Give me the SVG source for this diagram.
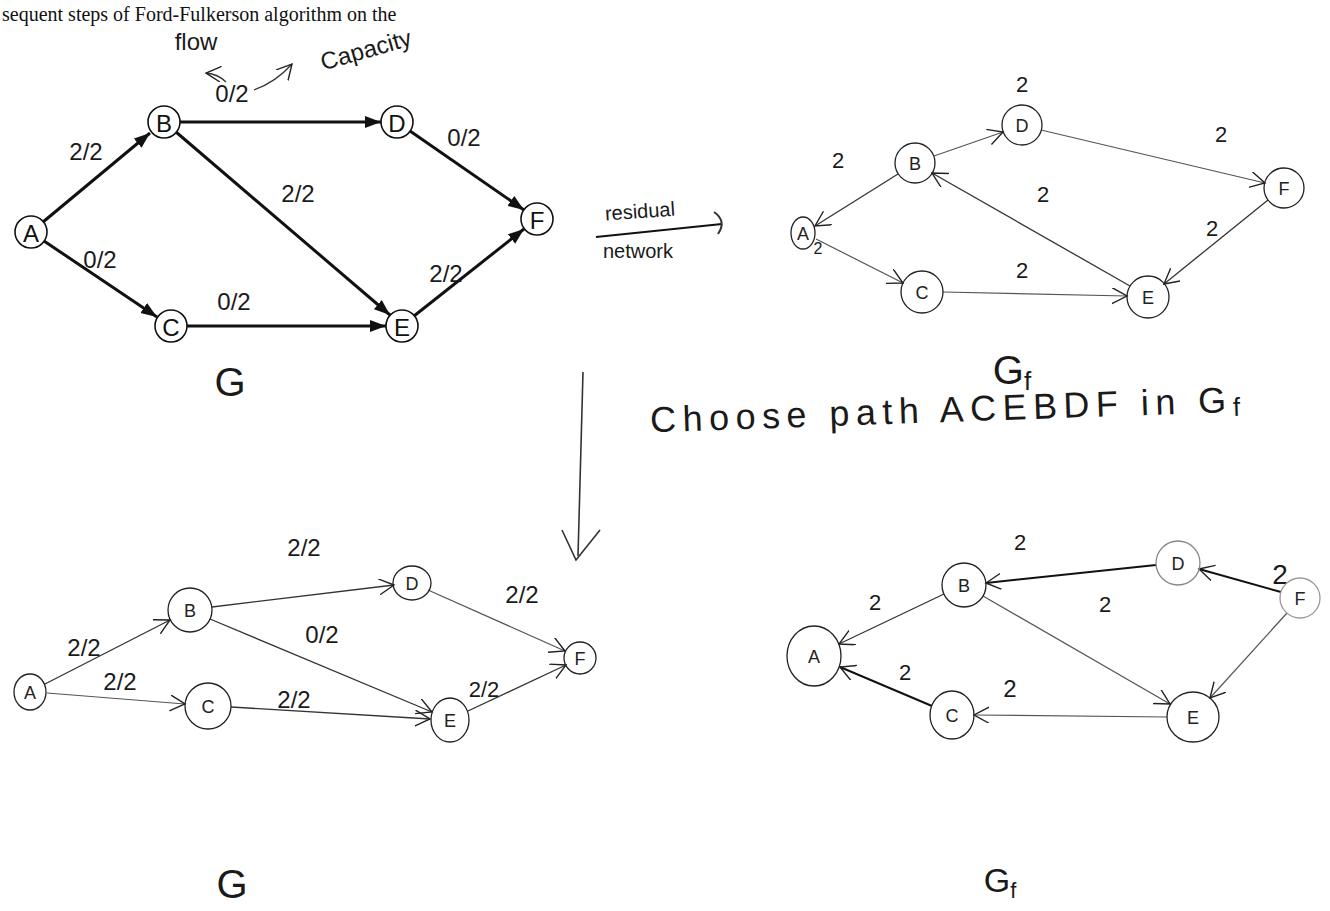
<svg xmlns="http://www.w3.org/2000/svg" width="1330" height="911" viewBox="0 0 1330 911">
<defs>
<style>
.bg{fill:#fff}
.pn{fill:#fff;stroke:#111;stroke-width:1.6}
.pl{font-family:"Liberation Sans",Arial,sans-serif;font-size:24px;fill:#111;text-anchor:middle;dominant-baseline:central}
.hn{fill:none;stroke:#222;stroke-width:1.3}
.hl{font-family:"Liberation Sans",Arial,sans-serif;font-size:18px;fill:#222;text-anchor:middle;dominant-baseline:central}
.hw{font-family:"Liberation Sans",Arial,sans-serif;fill:#1a1a1a;text-anchor:middle}
.thick{stroke:#111;stroke-width:3;fill:none}
.thin{stroke:#333;stroke-width:1.3;fill:none}
.light{stroke:#555;stroke-width:1.2;fill:none}
.print{font-family:"Liberation Serif","Times New Roman",serif;font-size:20px;fill:#111}
</style>
<marker id="tri" markerUnits="userSpaceOnUse" markerWidth="18" markerHeight="14" refX="16" refY="6" orient="auto"><path d="M0,0 L16,6 L0,12 z" fill="#111"/></marker>
<marker id="vee" markerUnits="userSpaceOnUse" markerWidth="18" markerHeight="18" refX="15" refY="8" orient="auto"><path d="M0,0 L15,8 L0,16" fill="none" stroke="#222" stroke-width="1.4"/></marker>
</defs>
<rect class="bg" width="1330" height="911"/>
<text class="print" x="2" y="21">sequent steps of Ford-Fulkerson algorithm on the</text>

<g id="connectors">
<!-- G (top) -->
<line class="thick" x1="43" y1="222" x2="150" y2="133" marker-end="url(#tri)"/>
<line class="thick" x1="44" y1="241" x2="157" y2="317" marker-end="url(#tri)"/>
<line class="thick" x1="180" y1="122" x2="381" y2="122" marker-end="url(#tri)"/>
<line class="thick" x1="176" y1="132" x2="390" y2="315" marker-end="url(#tri)"/>
<line class="thick" x1="410" y1="131" x2="524" y2="210" marker-end="url(#tri)"/>
<line class="thick" x1="187" y1="326" x2="386" y2="326" marker-end="url(#tri)"/>
<line class="thick" x1="414" y1="316" x2="524" y2="229" marker-end="url(#tri)"/>
<!-- annotation arrows -->
<path class="thin" d="M226,82 Q218,74 206,73" marker-end="url(#vee)"/>
<path class="thin" d="M254,90 Q276,82 292,64" marker-end="url(#vee)"/>
<!-- residual network arrow -->
<path class="thick" style="stroke-width:2" d="M596,237 Q665,230 722,224"/>
<path class="thin" style="stroke-width:2" d="M714,212 Q727,221 718,234"/>
<!-- Gf top -->
<line class="light" x1="934" y1="156" x2="1003" y2="132" marker-end="url(#vee)"/>
<line class="light" x1="1041" y1="130" x2="1265" y2="183" marker-end="url(#vee)"/>
<line class="thin" x1="898" y1="174" x2="815" y2="226" marker-end="url(#vee)"/>
<line class="light" x1="816" y1="239" x2="903" y2="283" marker-end="url(#vee)"/>
<line class="light" x1="943" y1="292" x2="1127" y2="296" marker-end="url(#vee)"/>
<line class="thin" x1="1130" y1="286" x2="932" y2="173" marker-end="url(#vee)"/>
<line class="thin" x1="1268" y1="200" x2="1164" y2="284" marker-end="url(#vee)"/>
<!-- vertical down arrow -->
<line class="thin" style="stroke-width:1.6" x1="583" y1="372" x2="578" y2="556"/>
<path class="thin" style="stroke-width:1.6" d="M562,530 L576,560 L600,530"/>
<!-- G (bottom) -->
<line class="thin" x1="45" y1="684" x2="170" y2="620" marker-end="url(#vee)"/>
<line class="light" x1="47" y1="693" x2="185" y2="704" marker-end="url(#vee)"/>
<line class="thin" x1="212" y1="607" x2="394" y2="585" marker-end="url(#vee)"/>
<line class="thin" x1="210" y1="619" x2="432" y2="712" marker-end="url(#vee)"/>
<line class="light" x1="428" y1="590" x2="565" y2="651" marker-end="url(#vee)"/>
<line class="thin" x1="231" y1="707" x2="430" y2="719" marker-end="url(#vee)"/>
<line class="thin" x1="468" y1="711" x2="566" y2="665" marker-end="url(#vee)"/>
<!-- Gf bottom -->
<line class="thick" style="stroke-width:2" x1="1156" y1="565" x2="986" y2="583" marker-end="url(#vee)"/>
<line class="thick" style="stroke-width:2" x1="1281" y1="592" x2="1199" y2="569" marker-end="url(#vee)"/>
<line class="thin" x1="944" y1="594" x2="839" y2="644" marker-end="url(#vee)"/>
<line class="thick" style="stroke-width:2" x1="932" y1="706" x2="840" y2="667" marker-end="url(#vee)"/>
<line class="light" x1="1167" y1="717" x2="974" y2="715" marker-end="url(#vee)"/>
<line class="light" x1="983" y1="596" x2="1170" y2="704" marker-end="url(#vee)"/>
<line class="light" x1="1287" y1="613" x2="1210" y2="698" marker-end="url(#vee)"/>
</g>

<g id="labels">
<text class="hw" x="196" y="50" font-size="24">flow</text>
<text class="hw" x="366" y="58" font-size="24" transform="rotate(-16 366 50)">Capacity</text>
<text class="hw" x="232" y="102" font-size="24">0/2</text>
<text class="hw" x="86" y="160" font-size="24">2/2</text>
<text class="hw" x="100" y="268" font-size="24">0/2</text>
<text class="hw" x="298" y="202" font-size="24">2/2</text>
<text class="hw" x="464" y="146" font-size="24">0/2</text>
<text class="hw" x="234" y="310" font-size="24">0/2</text>
<text class="hw" x="446" y="282" font-size="24">2/2</text>
<text class="hw" x="230" y="396" font-size="40">G</text>
<text class="hw" x="640" y="218" font-size="20" transform="rotate(-4 640 212)">residual</text>
<text class="hw" x="638" y="258" font-size="20">network</text>
<text class="hw" x="1022" y="92" font-size="22">2</text>
<text class="hw" x="1221" y="142" font-size="22">2</text>
<text class="hw" x="838" y="168" font-size="22">2</text>
<text class="hw" x="818" y="254" font-size="16">2</text>
<text class="hw" x="1022" y="278" font-size="22">2</text>
<text class="hw" x="1043" y="202" font-size="22">2</text>
<text class="hw" x="1212" y="236" font-size="22">2</text>
<text class="hw" x="1012" y="384" font-size="40">G<tspan font-size="26" dy="6">f</tspan></text>
<text class="hw" x="945" y="422" font-size="36" textLength="590" lengthAdjust="spacing" transform="rotate(-2 945 410)">Choose path ACEBDF in G<tspan font-size="26" dy="4">f</tspan></text>
<text class="hw" x="304" y="556" font-size="24">2/2</text>
<text class="hw" x="522" y="603" font-size="24">2/2</text>
<text class="hw" x="84" y="656" font-size="24">2/2</text>
<text class="hw" x="322" y="643" font-size="24">0/2</text>
<text class="hw" x="120" y="690" font-size="24">2/2</text>
<text class="hw" x="294" y="708" font-size="24">2/2</text>
<text class="hw" x="484" y="697" font-size="22">2/2</text>
<text class="hw" x="232" y="898" font-size="40">G</text>
<text class="hw" x="1020" y="550" font-size="22">2</text>
<text class="hw" x="1280" y="584" font-size="28">2</text>
<text class="hw" x="875" y="610" font-size="22">2</text>
<text class="hw" x="905" y="680" font-size="22">2</text>
<text class="hw" x="1010" y="697" font-size="24">2</text>
<text class="hw" x="1105" y="612" font-size="22">2</text>
<text class="hw" x="1000" y="892" font-size="34">G<tspan font-size="22" dy="6">f</tspan></text>
</g>

<g id="G1-A"><circle class="pn" cx="31" cy="232" r="16"/><text class="pl" x="31" y="233">A</text></g>
<g id="G1-B"><circle class="pn" cx="164" cy="122" r="16"/><text class="pl" x="164" y="123">B</text></g>
<g id="G1-D"><circle class="pn" cx="397" cy="122" r="16"/><text class="pl" x="397" y="123">D</text></g>
<g id="G1-F"><circle class="pn" cx="537" cy="219" r="16"/><text class="pl" x="537" y="220">F</text></g>
<g id="G1-C"><circle class="pn" cx="171" cy="326" r="16"/><text class="pl" x="171" y="327">C</text></g>
<g id="G1-E"><circle class="pn" cx="402" cy="326" r="16"/><text class="pl" x="402" y="327">E</text></g>

<g id="Gf1-A"><ellipse class="hn" cx="803" cy="233" rx="12" ry="16"/><text class="hl" x="803" y="234">A</text></g>
<g id="Gf1-B"><circle class="hn" cx="915" cy="163" r="20"/><text class="hl" x="915" y="164">B</text></g>
<g id="Gf1-D"><circle class="hn" cx="1022" cy="125" r="20"/><text class="hl" x="1022" y="126">D</text></g>
<g id="Gf1-F"><circle class="hn" cx="1284" cy="188" r="20"/><text class="hl" x="1284" y="189">F</text></g>
<g id="Gf1-C"><circle class="hn" cx="922" cy="292" r="21"/><text class="hl" x="922" y="293">C</text></g>
<g id="Gf1-E"><circle class="hn" cx="1148" cy="297" r="21"/><text class="hl" x="1148" y="298">E</text></g>

<g id="G2-A"><ellipse class="hn" cx="30" cy="692" rx="16" ry="18"/><text class="hl" x="30" y="693">A</text></g>
<g id="G2-B"><circle class="hn" cx="190" cy="610" r="22"/><text class="hl" x="190" y="611">B</text></g>
<g id="G2-D"><ellipse class="hn" cx="412" cy="583" rx="19" ry="17"/><text class="hl" x="412" y="584">D</text></g>
<g id="G2-F"><circle class="hn" cx="580" cy="658" r="16"/><text class="hl" x="580" y="659">F</text></g>
<g id="G2-C"><circle class="hn" cx="208" cy="706" r="23"/><text class="hl" x="208" y="707">C</text></g>
<g id="G2-E"><ellipse class="hn" cx="450" cy="720" rx="19" ry="22"/><text class="hl" x="450" y="721">E</text></g>

<g id="Gf2-A"><ellipse class="hn" cx="814" cy="656" rx="27" ry="30"/><text class="hl" x="814" y="657">A</text></g>
<g id="Gf2-B"><circle class="hn" cx="964" cy="585" r="22"/><text class="hl" x="964" y="586">B</text></g>
<g id="Gf2-D"><circle class="hn" style="stroke:#888" cx="1178" cy="563" r="22"/><text class="hl" x="1178" y="564">D</text></g>
<g id="Gf2-F"><circle class="hn" style="stroke:#999" cx="1300" cy="598" r="20"/><text class="hl" x="1300" y="599">F</text></g>
<g id="Gf2-C"><ellipse class="hn" cx="952" cy="715" rx="22" ry="24"/><text class="hl" x="952" y="716">C</text></g>
<g id="Gf2-E"><ellipse class="hn" cx="1193" cy="717" rx="26" ry="25"/><text class="hl" x="1193" y="718">E</text></g>
</svg>
